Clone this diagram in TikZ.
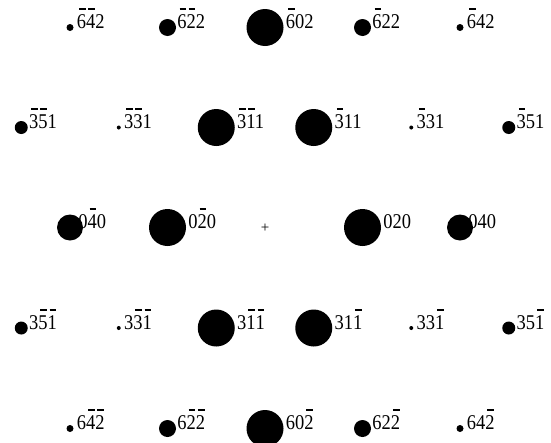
\documentclass[tikz,border=0pt]{standalone}
\usepackage{fontspec}
\setmainfont{Liberation Serif}
\newfontfamily\hklfont[FakeStretch=0.88]{Liberation Serif}
\usetikzlibrary{positioning}
\newcommand\nbar[1]{\leavevmode\rlap{\kern0.1em\rule[0.88em]{0.32em}{0.085em}}#1}

\begin{document}
\begin{tikzpicture}[
    x=1pt, y=-1pt,
    spot/.style={circle, fill=black, inner sep=0pt, minimum size=#1},
    bigspot/.style={spot=37pt},
    midspot/.style={spot=26pt},
    smallspot/.style={spot=17pt},
    weakspot/.style={spot=13pt},
    faintspot/.style={spot=7pt},
    dotspot/.style={spot=4pt},
    hkl/.style={inner sep=0pt, font=\hklfont\fontsize{21}{21}\selectfont, anchor=base west, yshift=-1pt}
]
\useasboundingbox (0,0) rectangle (551,442);

% top row
\node[faintspot] (m6m42) at (70,27.5) {};
\node[smallspot] (m6m22) at (167.5,27.5) {};
\node[bigspot]   (m602)  at (265,27.5) {};
\node[smallspot] (m622)  at (362.5,27.5) {};
\node[faintspot] (m642)  at (460,27.5) {};
\node[right=3pt of m6m42, hkl] (m6m42l) {\nbar6\nbar42};
\node[right=1pt of m6m22, hkl] (m6m22l) {\nbar6\nbar22};
\node[right=2pt of m602, hkl]  (m602l)  {\nbar602};
\node[right=1pt of m622, hkl]  (m622l)  {\nbar622};
\node[right=3pt of m642, hkl]  (m642l)  {\nbar642};

% second row
\node[weakspot] (m3m51) at (21.25,127.5) {};
\node[dotspot]  (m3m31) at (118.75,127.5) {};
\node[bigspot]  (m3m11) at (216.25,127.5) {};
\node[bigspot]  (m311)  at (313.75,127.5) {};
\node[dotspot]  (m331)  at (411.25,127.5) {};
\node[weakspot] (m351)  at (508.75,127.5) {};
\node[right=1pt of m3m51, hkl] (m3m51l) {\nbar3\nbar51};
\node[right=3pt of m3m31, hkl] (m3m31l) {\nbar3\nbar31};
\node[right=2pt of m3m11, hkl] (m3m11l) {\nbar3\nbar11};
\node[right=2pt of m311, hkl]  (m311l)  {\nbar311};
\node[right=3pt of m331, hkl]  (m331l)  {\nbar331};
\node[right=1pt of m351, hkl]  (m351l)  {\nbar351};

% middle row
\node[midspot] (0m40) at (70,227.5) {};
\node[bigspot] (0m20) at (167.5,227.5) {};
\node[inner sep=0pt, font=\fontsize{15}{15}\selectfont] (origin) at (265,228) {+};
\node[bigspot] (020)  at (362.5,227.5) {};
\node[midspot] (040)  at (460,227.5) {};
\node[right=-5pt of 0m40, hkl] (0m40l) {0\nbar40};
\node[right=2pt of 0m20, hkl]  (0m20l) {0\nbar20};
\node[right=2pt of 020, hkl]   (020l)  {020};
\node[right=-5pt of 040, hkl]  (040l)  {040};

% fourth row
\node[weakspot] (3m5m1) at (21.25,328) {};
\node[dotspot]  (3m3m1) at (118.75,328) {};
\node[bigspot]  (3m1m1) at (216.25,328) {};
\node[bigspot]  (31m1)  at (313.75,328) {};
\node[dotspot]  (33m1)  at (411.25,328) {};
\node[weakspot] (35m1)  at (508.75,328) {};
\node[right=1pt of 3m5m1, hkl] (3m5m1l) {3\nbar5\nbar1};
\node[right=3pt of 3m3m1, hkl] (3m3m1l) {3\nbar3\nbar1};
\node[right=2pt of 3m1m1, hkl] (3m1m1l) {3\nbar1\nbar1};
\node[right=2pt of 31m1, hkl]  (31m1l)  {31\nbar1};
\node[right=3pt of 33m1, hkl]  (33m1l)  {33\nbar1};
\node[right=1pt of 35m1, hkl]  (35m1l)  {35\nbar1};

% bottom row
\node[faintspot] (6m4m2) at (70,428.5) {};
\node[smallspot] (6m2m2) at (167.5,428.5) {};
\node[bigspot]   (60m2)  at (265,428.5) {};
\node[smallspot] (62m2)  at (362.5,428.5) {};
\node[faintspot] (64m2)  at (460,428.5) {};
\node[right=3pt of 6m4m2, hkl] (6m4m2l) {6\nbar4\nbar2};
\node[right=1pt of 6m2m2, hkl] (6m2m2l) {6\nbar2\nbar2};
\node[right=2pt of 60m2, hkl]  (60m2l)  {60\nbar2};
\node[right=1pt of 62m2, hkl]  (62m2l)  {62\nbar2};
\node[right=3pt of 64m2, hkl]  (64m2l)  {64\nbar2};
\end{tikzpicture}
\end{document}
